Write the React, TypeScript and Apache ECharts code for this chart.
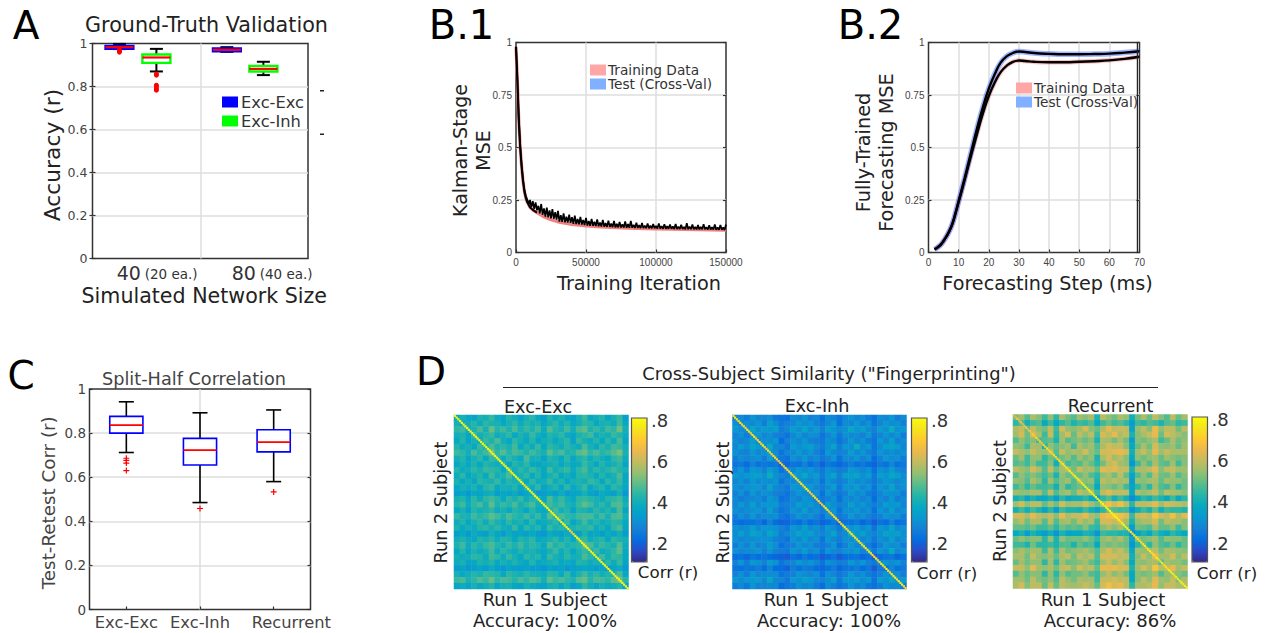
import React, { useEffect, useRef } from "react";
import * as echarts from "echarts";

const FONT = "DejaVu Sans";
const PARULA = ["#352A87","#2B4AC7","#046DE0","#1481D6","#0998D1","#07A9C2","#25B5A9","#59BD8C","#92BF73","#C0BC60","#E9B94E","#FEC832","#F5E41D","#F9FB0E"];

// Panel A: [low whisker, Q1, median, Q3, high whisker]
const boxAExcExc = [[0.974,0.975,0.983,0.989,0.998],[0.961,0.963,0.971,0.977,0.983]];
const boxAExcInh = [[0.87,0.91,0.935,0.949,0.975],[0.853,0.87,0.882,0.896,0.915]];
const boxAPositionsEE = [0.25,1.247];
const boxAPositionsEI = [0.593,1.586];
const outliersAEE = [0.97,0.965,0.96];
const outliersAEI = [0.858,0.853,0.806,0.8,0.79,0.783];
const labelsA: Record<string, string> = { "0.6": "{a|40} {b|(20 ea.)}", "1.667": "{a|80} {b|(40 ea.)}" };
const labelValuesA = [0.6, 1.667];

// Panel B.1
const b1TrainIter = [0,1000,2000,3000,4000,5000,6000,7000,8000,10000,12000,15000,20000,25000,30000,40000,50000,60000,80000,100000,120000,150000];
const b1Train = [0.98,0.82,0.63,0.5,0.41,0.34,0.29,0.26,0.24,0.215,0.203,0.19,0.17,0.156,0.146,0.134,0.127,0.122,0.116,0.112,0.11,0.107];
const b1TestEarlyIter = [0,500,1000,1500,2000,2500,3000,3500,4000,4500,5000,5500,6000,6500,7000,7500,8000,8500,9000,9500];
const b1TestEarly = [0.98,0.9,0.82,0.72,0.64,0.57,0.51,0.46,0.42,0.385,0.35,0.325,0.3,0.285,0.27,0.262,0.25,0.245,0.235,0.232];
const b1TestNoisy = [0.25,0.216,0.244,0.208,0.238,0.201,0.222,0.186,0.231,0.18,0.21,0.171,0.214,0.167,0.2,0.163,0.207,0.16,0.192,0.157,0.198,0.147,0.178,0.146,0.186,0.144,0.17,0.143,0.18,0.141,0.168,0.136,0.175,0.135,0.16,0.134,0.17,0.133,0.155,0.131,0.165,0.128,0.15,0.127,0.16,0.127,0.146,0.126,0.158,0.125,0.143,0.124,0.155,0.123,0.14,0.122,0.152,0.122,0.138,0.121,0.15,0.12,0.136,0.12,0.146,0.119,0.134,0.119,0.148,0.118,0.135,0.118,0.15,0.118,0.132,0.117,0.142,0.117,0.13,0.116,0.14,0.116,0.128,0.116,0.138,0.115,0.128,0.115,0.136,0.115,0.127,0.114,0.138,0.114,0.126,0.113,0.134,0.113,0.125,0.113,0.133,0.113,0.124,0.112,0.136,0.112,0.123,0.112,0.132,0.112,0.122,0.111,0.14,0.111,0.123,0.111,0.133,0.111,0.122,0.11,0.131,0.11,0.122,0.11,0.135,0.11,0.121,0.109,0.13,0.109,0.12,0.109,0.134,0.108,0.12,0.108,0.131,0.108,0.119,0.107,0.133];

// Panel B.2
const b2Steps = [2,3,4,5,6,7,8,9,10,12,14,16,18,20,22,24,26,28,30,32,35,40,45,50,55,60,65,70];
const b2Train = [0.015,0.024,0.036,0.055,0.078,0.105,0.14,0.188,0.24,0.345,0.455,0.56,0.66,0.745,0.81,0.86,0.89,0.908,0.914,0.912,0.908,0.906,0.906,0.908,0.911,0.915,0.922,0.932];
const b2Test = [0.015,0.024,0.036,0.055,0.078,0.105,0.14,0.19,0.245,0.355,0.47,0.585,0.69,0.78,0.85,0.905,0.935,0.95,0.957,0.955,0.95,0.946,0.944,0.944,0.945,0.947,0.952,0.958];

// Panel C
const categoriesC: Record<string, string> = { "1": "Exc-Exc", "2": "Exc-Inh", "3.24": "Recurrent" };
const labelValuesC = [1, 2, 3.24];
const boxC = [[0.712,0.8,0.836,0.876,0.942],[0.485,0.655,0.723,0.776,0.892],[0.58,0.715,0.759,0.815,0.905]];
const outliersC = [[1,0.686],[1,0.676],[1,0.664],[1,0.63],[2,0.458],[3,0.533]];

// Panel D, coarse reading of each similarity matrix, percent correlation
const heatExcExc = [
[37,41,38,36,42,40,45,39,37,43,40,36,41,44,38,35,43,39,42,38,36,41,46,38,40,43,37,41,45,35],
[41,38,40,43,39,44,42,41,38,41,44,39,43,40,42,37,41,44,39,43,38,40,44,43,38,41,42,39,46,38],
[44,46,39,42,47,41,50,43,46,42,47,41,45,42,46,39,48,43,41,46,40,47,49,42,45,41,46,44,51,40],
[40,42,37,44,40,43,45,39,41,44,38,42,39,45,40,38,43,41,44,39,37,42,44,46,39,42,40,45,43,39],
[38,43,36,41,39,45,42,47,40,37,44,41,38,43,37,40,42,38,41,44,36,45,41,39,43,38,44,39,47,37],
[43,39,41,38,45,40,47,42,44,41,46,38,43,39,45,38,44,42,39,44,41,39,47,41,38,44,41,46,45,40],
[46,44,40,47,43,46,51,44,48,43,47,45,42,46,43,41,49,44,47,42,43,48,50,44,47,43,45,48,52,41],
[40,43,37,41,44,38,45,43,39,44,41,38,47,40,41,36,43,41,38,44,37,42,44,39,43,40,38,44,46,39],
[37,41,38,42,38,43,41,39,41,37,43,40,44,38,37,39,40,42,37,41,38,39,45,41,37,43,39,41,44,36],
[43,39,40,44,41,45,44,43,38,45,40,44,41,45,42,38,46,40,43,45,39,44,47,40,44,41,43,46,43,41],
[39,44,37,40,43,38,46,40,42,47,39,41,44,38,43,37,41,44,38,40,37,43,44,42,38,43,39,41,47,37],
[42,38,41,37,44,42,41,45,39,43,41,43,38,44,39,40,45,39,43,37,41,42,40,45,43,37,44,40,45,38],
[38,41,39,42,37,43,45,38,41,40,43,37,42,39,44,36,40,43,37,44,38,41,45,37,41,43,38,44,42,37],
[35,37,33,38,36,39,40,34,38,36,39,34,38,36,33,35,38,35,39,34,36,37,41,36,34,39,37,35,41,33],
[41,43,38,44,39,44,46,43,38,44,41,45,39,43,42,37,47,41,45,40,38,44,45,43,41,39,43,44,46,39],
[43,46,39,44,47,41,49,42,45,43,47,41,44,47,40,41,46,43,46,42,40,45,49,46,41,44,40,47,48,41],
[38,41,36,43,40,42,44,39,41,38,43,41,37,43,39,38,41,46,40,43,36,43,42,39,44,40,43,39,47,36],
[45,42,41,46,43,45,49,46,42,47,44,42,46,41,45,39,48,43,47,44,43,46,47,47,42,46,41,47,48,40],
[39,43,37,41,44,39,45,41,39,44,40,42,38,44,38,39,41,44,38,45,37,41,46,40,43,39,41,44,43,38],
[42,38,41,39,43,44,41,44,40,39,45,38,44,40,43,37,45,41,43,39,42,44,43,45,39,42,38,44,47,37],
[35,38,33,39,36,35,41,37,34,39,36,37,35,38,34,33,39,36,35,39,36,35,42,36,38,34,39,36,40,34],
[40,42,39,38,43,41,44,39,43,42,38,43,41,44,38,39,41,44,39,43,38,44,45,39,42,43,38,44,42,40],
[42,46,39,44,41,45,47,43,40,45,42,46,41,44,42,38,47,42,45,41,43,44,49,47,41,45,43,41,48,39],
[38,43,37,42,39,41,46,39,44,41,39,43,40,42,39,38,41,45,39,43,37,42,45,41,45,39,41,44,49,38],
[41,39,40,44,43,39,46,44,39,45,41,38,44,41,43,37,45,41,39,44,40,41,47,43,39,46,40,45,44,38],
[39,41,36,38,42,40,43,38,41,39,42,39,37,43,37,39,40,42,38,39,37,43,42,39,41,38,44,39,45,36],
[34,36,33,35,37,34,39,35,33,37,35,34,36,34,35,32,37,34,36,33,35,36,38,36,34,37,33,37,39,33],
[41,38,40,43,41,45,44,43,38,44,42,40,44,41,40,39,44,43,38,45,38,42,46,41,44,40,43,41,47,38],
[45,47,41,44,48,45,50,44,47,46,43,47,44,48,46,40,49,45,47,44,42,48,50,43,47,46,44,49,51,43],
[37,39,36,41,38,40,43,37,40,41,38,36,41,39,37,36,40,42,37,41,35,38,44,40,37,41,39,40,43,36],
];

const heatExcInh = [
[27,30,26,33,28,29,31,25,24,23,30,28,33,27,29,23,30,28,24,29,32,28,31,26,23,30,28,33,26,30],
[30,27,31,29,32,26,35,30,25,27,28,33,30,32,27,25,29,33,23,30,28,33,27,31,24,28,33,30,31,27],
[33,30,29,37,31,34,33,35,26,29,34,31,37,30,34,27,35,32,29,31,37,32,35,30,27,34,31,39,31,33],
[28,31,26,30,33,28,31,27,26,24,29,33,28,31,30,24,28,32,25,31,29,30,27,33,25,28,32,29,32,26],
[30,27,29,34,27,31,30,32,22,27,31,28,32,27,26,25,31,29,24,27,33,28,31,26,24,33,28,35,27,30],
[29,34,30,36,33,29,38,29,28,25,34,31,33,35,30,26,31,36,26,33,31,39,30,33,24,30,35,36,34,28],
[31,28,27,33,28,31,32,30,24,28,29,33,29,32,27,24,33,29,27,28,34,29,32,27,25,32,29,31,28,31],
[26,30,28,30,31,26,34,27,25,23,31,28,33,27,30,25,27,32,23,30,29,32,27,31,22,27,33,30,31,26],
[24,25,22,27,23,25,24,25,21,21,24,23,27,22,25,20,25,23,21,24,26,23,25,22,20,25,23,28,23,25],
[27,32,26,33,31,27,34,30,23,27,28,33,30,32,28,25,31,29,26,27,33,31,28,31,23,31,29,34,28,27],
[33,31,33,34,35,31,39,31,28,26,35,32,38,31,34,26,32,36,27,35,34,36,31,34,25,35,32,37,35,30],
[28,31,27,33,29,31,30,32,24,28,29,31,30,28,31,24,32,29,26,28,33,29,31,28,25,29,33,31,28,31],
[31,29,31,32,33,28,36,29,27,25,33,31,32,33,28,26,30,34,25,32,31,34,29,32,24,32,30,36,29,31],
[27,31,26,33,28,31,30,27,26,24,28,32,30,28,31,23,32,28,25,27,33,29,31,26,24,28,32,31,31,26],
[29,26,28,29,30,26,33,30,23,25,30,27,32,30,26,25,27,31,23,30,28,31,27,30,22,30,27,33,26,29],
[28,33,29,35,29,32,32,33,26,27,29,34,31,33,29,24,34,30,27,29,35,30,33,29,26,29,34,32,33,28],
[31,28,30,31,32,27,35,28,24,26,32,29,35,28,31,26,29,33,24,31,30,33,28,31,23,32,29,35,28,31],
[26,31,27,33,27,30,30,31,25,23,27,32,29,31,27,23,31,28,25,27,33,28,31,27,25,27,32,30,31,26],
[24,22,23,23,25,21,27,22,20,21,24,22,26,22,24,20,22,25,20,23,23,25,21,24,19,24,22,27,22,24],
[31,29,30,34,29,32,32,31,27,25,33,30,35,29,31,26,33,30,25,32,31,34,29,32,24,33,30,36,29,31],
[30,35,30,36,34,30,37,33,26,29,31,36,33,35,30,28,31,36,27,30,37,32,35,30,27,31,36,34,35,30],
[31,28,30,30,31,31,31,27,26,24,32,29,34,28,31,24,32,29,26,31,30,33,28,31,25,31,29,35,28,31],
[26,31,27,33,27,29,34,30,23,26,27,32,29,31,26,25,27,32,23,27,33,28,31,26,22,27,33,30,31,26],
[31,28,30,30,32,27,32,27,26,25,32,29,34,28,31,24,32,29,27,31,30,33,27,31,25,32,29,38,28,31],
[22,23,21,24,22,24,22,21,20,19,23,21,25,22,23,19,21,24,19,22,23,24,21,23,18,22,24,25,21,23],
[27,32,26,33,31,27,34,31,24,27,28,33,30,32,28,24,31,29,26,27,33,29,32,27,25,28,32,30,32,27],
[24,23,25,24,26,22,28,22,22,20,26,23,26,25,22,21,23,26,21,24,24,26,22,25,19,25,23,28,23,25],
[27,31,26,33,28,30,30,30,24,26,27,32,30,28,31,23,31,28,25,27,33,28,31,26,24,27,32,29,31,26],
[33,30,32,33,34,29,37,29,28,25,33,31,35,33,29,27,30,35,25,33,32,34,30,33,24,34,31,36,30,33],
[26,29,25,32,27,28,29,29,22,25,26,31,28,30,26,22,30,27,24,26,32,27,30,25,23,26,31,29,30,25],
];

const heatRecurrent = [
[51,56,48,57,53,46,54,44,57,51,48,56,53,57,42,59,54,51,57,54,40,51,57,50,59,53,48,59,50,56],
[44,48,40,46,48,38,46,38,44,48,42,46,44,48,38,46,50,46,48,44,34,46,44,48,46,42,48,50,44,46],
[57,60,50,59,53,51,59,46,62,54,53,56,62,53,50,57,64,59,60,59,36,54,59,53,66,54,59,59,51,59],
[56,62,51,62,57,46,60,44,56,62,50,59,54,59,46,62,59,65,57,60,42,53,57,60,65,51,62,59,56,53],
[48,54,50,53,46,48,50,42,56,48,51,53,50,53,42,57,56,51,57,51,34,53,51,54,57,46,50,57,51,54],
[54,53,46,57,56,42,54,50,53,56,46,57,53,56,48,57,62,59,60,53,38,50,57,51,62,54,53,56,50,56],
[60,57,54,60,56,54,59,48,60,54,57,56,62,54,50,62,62,64,65,62,40,56,60,54,65,56,60,57,57,57],
[50,56,46,54,54,44,51,46,51,54,48,56,51,54,42,57,62,56,59,53,38,54,51,54,56,50,56,53,51,53],
[48,50,46,53,46,46,53,40,54,46,50,48,54,50,44,51,59,62,56,54,32,46,54,48,57,50,48,56,46,53],
[59,56,53,62,57,48,60,50,57,57,51,60,56,57,50,64,62,64,60,60,42,57,57,59,64,53,59,60,56,56],
[48,54,50,53,50,46,51,42,54,50,51,50,54,48,44,54,57,51,59,50,36,48,54,48,59,51,50,56,48,53],
[54,53,48,57,53,44,56,48,53,56,48,56,53,54,42,59,56,59,56,57,34,54,53,56,57,50,56,54,54,51],
[46,51,44,50,46,46,48,40,53,44,48,51,48,50,38,54,53,50,54,46,36,44,51,44,56,48,46,53,44,51],
[56,54,54,57,57,48,59,48,54,57,50,59,56,57,46,59,64,59,59,59,38,57,54,57,60,51,59,57,56,53],
[40,44,36,42,38,38,42,34,44,38,40,40,44,38,34,44,48,40,46,40,30,38,44,40,46,42,38,46,38,44],
[56,62,54,59,59,50,57,51,62,56,57,57,62,56,51,60,67,62,67,59,44,59,59,60,65,56,62,60,59,57],
[40,46,40,46,42,36,44,34,46,42,42,40,46,40,36,44,50,48,46,46,32,40,46,42,50,40,46,44,44,42],
[62,62,57,65,59,57,60,53,65,57,60,60,65,57,54,65,67,69,67,64,46,60,62,59,69,62,59,67,57,64],
[54,59,51,57,57,48,59,48,56,57,51,59,54,57,46,62,62,60,62,56,42,54,57,57,62,51,59,57,57,53],
[50,50,48,51,46,46,50,44,51,48,50,48,53,46,44,53,57,53,57,50,34,51,50,48,57,50,50,54,46,53],
[38,42,34,42,38,34,40,32,42,36,38,38,42,40,32,46,44,44,42,42,28,36,42,38,46,40,38,44,40,38],
[50,54,51,53,53,44,54,42,54,50,51,51,54,50,44,54,57,53,57,51,36,53,51,53,56,48,54,53,53,50],
[46,46,42,51,44,44,46,42,48,48,42,50,46,48,38,53,51,53,51,50,32,44,50,44,54,48,46,51,44,50],
[53,57,53,56,56,46,57,46,57,51,53,54,57,53,48,57,62,57,60,54,38,56,54,56,59,51,57,56,54,53],
[57,57,51,60,54,53,56,50,57,59,51,59,56,59,48,62,62,62,59,60,40,53,60,54,65,56,56,62,53,59],
[50,56,51,54,54,44,56,44,56,50,51,53,56,50,46,56,60,54,59,53,38,54,53,56,57,48,56,54,54,51],
[60,60,54,64,56,54,57,51,59,60,53,62,57,59,50,65,64,65,62,62,42,56,62,57,69,59,59,65,56,60],
[48,54,50,53,53,44,54,44,54,48,51,51,54,48,46,54,59,53,57,51,38,53,51,53,56,48,54,54,53,50],
[56,56,51,59,53,51,54,48,59,54,51,57,56,56,46,60,60,62,59,59,38,53,59,54,64,56,54,60,51,57],
[57,62,53,59,59,50,60,50,59,57,56,57,60,57,50,62,67,62,65,59,44,57,57,59,65,54,60,60,57,57],
];

const diagExcExc = [80,80,79,80,80,80,79,80,80,80,80,79,80,80,80,78,80,80,80,79,80,80,80,79,80,80,80,80,78,80,80,80,79,80,80,80,79,80,80,80,73,76,80,80,80,79,80,80,80,80,79,80,80,80,78,80,80,80,79,80,80,80,80,79,80,80,72,71,74,78,80,80,79,80,80,80,80,78,80,80,80,79,80,80,80,80,80,79,80,80,80,80,78,80,80,80,80,80,79,80];
const diagExcInh = [75,78,76,72,78,74,76,70,78,74,72,76,78,70,74,76,72,78,74,70,76,72,70,74,76,72,68,72,74,70,76,72,74,78,70,72,76,74,72,78,70,74,78,76,72,70,74,76,72,74,68,72,74,78,76,70,72,74,76,78,70,74,72,76,78,74,72,76,78,74,76,72,78,74,76,78,74,72,76,78,74,76,78,72,74,78,76,74,78,76,72,78,76,78,74,78,76,78,74,72];
const diagRecurrent = [66,62,70,64,68,62,66,72,64,70,66,72,68,74,70,72,66,74,72,76,70,74,72,76,74,70,76,72,78,74,76,72,78,76,74,78,76,78,74,76,78,80,76,78,80,78,76,80,78,80,78,80,76,80,78,80,80,78,80,78,80,76,78,80,78,80,74,78,76,78,74,76,72,76,74,78,72,76,78,74,76,72,78,74,76,78,72,76,74,78,76,78,74,78,76,78,80,76,78,80];
const colorbarTicks = [0.2,0.4,0.6,0.8];
const CB_MIN = 0.11, CB_MAX = 0.81;

const GRID_LINE = { show: true, showMinLine: false, showMaxLine: false, lineStyle: { color: "#dedede", width: 1.5 } };
const rect = (left: number, top: number, right: number, bottom: number) => ({ left, top, width: right - left, height: bottom - top });

const line = (x1: number, y1: number, x2: number, y2: number, stroke: string, lineWidth: number) => ({ type: "line", shape: { x1, y1, x2, y2 }, style: { stroke, lineWidth } });

const renderBox = (boxColor: string, boxWidth: number, capPx: number, boxStroke: number, medStroke: number, whisk: number) => (_: any, api: any) => {
  const x = api.value(0);
  const c = api.coord([x, api.value(1)]);
  const cx = c[0], yLo = c[1];
  const yQ1 = api.coord([x, api.value(2)])[1];
  const yMed = api.coord([x, api.value(3)])[1];
  const yQ3 = api.coord([x, api.value(4)])[1];
  const yHi = api.coord([x, api.value(5)])[1];
  const hw = api.size([boxWidth, 0], [x, 0])[0] / 2;
  return {
    type: "group",
    children: [
      line(cx, yHi, cx, yQ3, "#000", whisk),
      line(cx, yLo, cx, yQ1, "#000", whisk),
      line(cx - capPx / 2, yHi, cx + capPx / 2, yHi, "#000", whisk),
      line(cx - capPx / 2, yLo, cx + capPx / 2, yLo, "#000", whisk),
      { type: "rect", shape: { x: cx - hw, y: yQ3, width: 2 * hw, height: yQ1 - yQ3 }, style: { fill: "#fff", stroke: boxColor, lineWidth: boxStroke } },
      line(cx - hw, yMed, cx + hw, yMed, "#f00", medStroke),
    ],
  };
};

const zip = (a: number[], b: number[]) => a.map((v, i) => [v, b[i]]);

function buildOption() {
  const grid: any[] = [], xAxis: any[] = [], yAxis: any[] = [], series: any[] = [], visualMap: any[] = [];
  const addGrid = (r: any, extra: any = {}) => { grid.push({ ...r, show: true, borderColor: "#333", borderWidth: 1.5, ...extra }); return grid.length - 1; };
  const addX = (o: any) => { xAxis.push(o); return xAxis.length - 1; };
  const addY = (o: any) => { yAxis.push(o); return yAxis.length - 1; };
  const tick = (len = 3) => ({ show: true, inside: true, length: len, lineStyle: { color: "#333", width: 1.2 } });
  const noLine = { show: false };
  const mirror = (gridIndex: number, min: number, max: number, interval: number) => addY({ gridIndex, type: "value", position: "right", min, max, interval, axisLine: noLine, axisTick: tick(), axisLabel: { show: false }, splitLine: { show: false } });

  // A
  const gA = addGrid(rect(92.5, 43.5, 308, 258.5));
  const xA = addX({ gridIndex: gA, type: "value", min: 0, max: 2, interval: 1, axisLine: noLine, axisTick: { show: false }, axisLabel: { show: false }, splitLine: GRID_LINE });
  addX({
    gridIndex: gA, type: "value", min: 0, max: 2, position: "bottom", axisLine: noLine, axisTick: { show: false }, splitLine: { show: false },
    axisLabel: {
      customValues: labelValuesA, margin: 5, color: "#333",
      formatter: (v: number) => labelsA[String(v)],
      rich: { a: { fontSize: 19, fontFamily: FONT, color: "#333" }, b: { fontSize: 13.5, fontFamily: FONT, color: "#333", padding: [2, 0, 0, 0] } },
    },
    name: "Simulated Network Size", nameLocation: "middle", nameGap: 26.5, nameMoveOverlap: false, nameTextStyle: { fontSize: 20.6, fontFamily: FONT, color: "#222", padding: [0, 0, 0, 8] },
  });
  const yA = addY({ gridIndex: gA, type: "value", min: 0, max: 1, interval: 0.2, axisLine: noLine, axisTick: tick(), splitLine: GRID_LINE,
    axisLabel: { fontSize: 12.5, fontFamily: FONT, color: "#444", margin: 5 },
    name: "Accuracy (r)", nameLocation: "middle", nameGap: 29, nameMoveOverlap: false, nameTextStyle: { fontSize: 21.8, fontFamily: FONT, color: "#222", padding: [0, 8, 0, 0] } });
  mirror(gA, 0, 1, 0.2);
  const boxOut = (name: string, data: number[][], render: any, xi: number, yi: number) => series.push({ name, type: "custom", xAxisIndex: xi, yAxisIndex: yi, data, renderItem: render, encode: { x: 0, y: [1, 2, 3, 4, 5] }, clip: false, z: 3 });
  boxOut("Exc-Exc", boxAExcExc.map((b, i) => [boxAPositionsEE[i], ...b]), renderBox("#0000ff", 0.26, 13, 2.2, 2.2, 2), xA, yA);
  boxOut("Exc-Inh", boxAExcInh.map((b, i) => [boxAPositionsEI[i], ...b]), renderBox("#00ff00", 0.26, 13, 2.4, 2.2, 2), xA, yA);
  const scat = (name: string, data: number[][], xi: number, yi: number, symbol: string, size: number) => series.push({ name, type: "scatter", xAxisIndex: xi, yAxisIndex: yi, data, symbol, symbolSize: size, itemStyle: { color: "#f00", opacity: 1 }, z: 4, clip: false });
  scat("EE outliers", outliersAEE.map((v) => [boxAPositionsEE[0], v]), xA, yA, "circle", 5);
  scat("EI outliers", outliersAEI.map((v) => [boxAPositionsEI[0], v]), xA, yA, "circle", 5);

  // B.1
  const gB1 = addGrid(rect(516, 42.5, 726, 252.5));
  const tickLabelB = { fontSize: 10, fontFamily: "Liberation Sans", color: "#444", margin: 4, formatter: (v: number) => String(v) };
  const xB1 = addX({ gridIndex: gB1, type: "value", min: 0, max: 150000, interval: 50000, axisLine: noLine, axisTick: tick(), splitLine: GRID_LINE,
    axisLabel: { ...tickLabelB, margin: 5 }, name: "Training Iteration", nameLocation: "middle", nameGap: 21, nameMoveOverlap: false, nameTextStyle: { fontSize: 19.3, fontFamily: FONT, color: "#222", padding: [0, 0, 0, 36] } });
  const yB1 = addY({ gridIndex: gB1, type: "value", min: 0, max: 1, interval: 0.25, axisLine: noLine, axisTick: tick(), splitLine: GRID_LINE, axisLabel: tickLabelB,
    name: "Kalman-Stage\nMSE", nameLocation: "middle", nameGap: 21.5, nameMoveOverlap: false, nameTextStyle: { fontSize: 19, lineHeight: 23, fontFamily: FONT, color: "#222", padding: [0, 6, 0, 0] } });
  mirror(gB1, 0, 1, 0.25);
  const b1NoisyIter = b1TestNoisy.map((_, i) => 10000 + i * 1000);
  series.push({ name: "Training Data", type: "line", xAxisIndex: xB1, yAxisIndex: yB1, showSymbol: false, symbol: "none", data: zip(b1TrainIter, b1Train), lineStyle: { color: "#f08080", width: 3.2 }, z: 2 });
  series.push({ name: "Test (Cross-Val)", type: "line", xAxisIndex: xB1, yAxisIndex: yB1, showSymbol: false, symbol: "none", data: [...zip(b1TestEarlyIter, b1TestEarly), ...zip(b1NoisyIter, b1TestNoisy)], lineStyle: { color: "#000", width: 1.7 }, z: 3 });
  series.push({ name: "Test mean", type: "line", xAxisIndex: xB1, yAxisIndex: yB1, showSymbol: false, symbol: "none", data: zip(b1TrainIter.slice(0, 12), b1Train.slice(0, 12)), lineStyle: { color: "#000", width: 2 }, z: 3 });

  // B.2
  const gB2 = addGrid(rect(928.5, 42.5, 1139.5, 252.5));
  const xB2 = addX({ gridIndex: gB2, type: "value", min: 0, max: 70, interval: 10, axisLine: noLine, axisTick: tick(), splitLine: GRID_LINE,
    axisLabel: { ...tickLabelB, margin: 5 }, name: "Forecasting Step (ms)", nameLocation: "middle", nameGap: 21, nameMoveOverlap: false, nameTextStyle: { fontSize: 19.2, fontFamily: FONT, color: "#222", padding: [0, 0, 0, 27] } });
  const yB2 = addY({ gridIndex: gB2, type: "value", min: 0, max: 1, interval: 0.25, axisLine: noLine, axisTick: tick(), splitLine: GRID_LINE, axisLabel: tickLabelB,
    name: "Fully-Trained\nForecasting MSE", nameLocation: "middle", nameGap: 31, nameMoveOverlap: false, nameTextStyle: { fontSize: 19.3, lineHeight: 23, fontFamily: FONT, color: "#222", padding: [0, 10, 0, 0] } });
  mirror(gB2, 0, 1, 0.25);
  const b2Line = (name: string, data: number[], color: string, width: number, z: number) => series.push({ name, type: "line", xAxisIndex: xB2, yAxisIndex: yB2, smooth: true, showSymbol: false, symbol: "none", data: zip(b2Steps, data), lineStyle: { color, width }, z, clip: true });
  b2Line("Training Data", b2Train, "rgba(240,100,100,0.4)", 4.5, 2);
  b2Line("Test (Cross-Val)", b2Test, "rgba(70,110,255,0.5)", 5.5, 2);
  b2Line("Train mean", b2Train, "#000", 2.4, 3);
  b2Line("Test mean", b2Test, "#000", 2.4, 3);
  series.push({ name: "Edge", type: "line", xAxisIndex: xB2, yAxisIndex: yB2, showSymbol: false, symbol: "none", data: [[69.3, 0], [69.3, 1]], lineStyle: { color: "#222", width: 1.2 }, z: 3 });

  // C
  const gC = addGrid(rect(89.5, 389, 310.5, 609.5));
  const xC = addX({ gridIndex: gC, type: "value", min: 0.5, max: 3.5, axisLine: noLine, axisTick: { ...tick(), customValues: [1, 2, 3] }, axisLabel: { show: false }, splitLine: GRID_LINE });
  addX({ gridIndex: gC, type: "value", min: 0.5, max: 3.5, position: "bottom", axisLine: noLine, axisTick: { show: false }, splitLine: { show: false },
    axisLabel: { customValues: labelValuesC, margin: 5, fontSize: 16.3, fontFamily: FONT, color: "#444", formatter: (v: number) => categoriesC[String(v)] } });
  const yC = addY({ gridIndex: gC, type: "value", min: 0, max: 1, interval: 0.2, axisLine: noLine, axisTick: tick(), splitLine: GRID_LINE,
    axisLabel: { fontSize: 13.5, fontFamily: FONT, color: "#444", margin: 3.5 },
    name: "Test-Retest Corr (r)", nameLocation: "middle", nameGap: 32.5, nameMoveOverlap: false, nameTextStyle: { fontSize: 18.3, fontFamily: FONT, color: "#444", padding: [0, 7, 0, 0] } });
  mirror(gC, 0, 1, 0.2);
  boxOut("Split-half", boxC.map((b, i) => [i + 1, ...b]), renderBox("#0000ff", 0.45, 15, 1.6, 1.6, 1.6), xC, yC);
  scat("C outliers", outliersC, xC, yC, "path://M4 0h2v4h4v2H6v4H4V6H0V4h4z", 6);

  // D
  const panels = [
    { m: heatExcExc, d: diagExcExc, r: rect(454, 415, 628.5, 589), cb: rect(631.5, 418, 647, 562) },
    { m: heatExcInh, d: diagExcInh, r: rect(732.5, 415, 906.5, 589), cb: rect(911.5, 418, 927, 562) },
    { m: heatRecurrent, d: diagRecurrent, r: rect(1013, 414.5, 1187.5, 588.5), cb: rect(1192, 417, 1207.5, 562) },
  ];
  const hidden = { show: false };
  panels.forEach((p) => {
    const g = addGrid(p.r, { borderWidth: 0 });
    const n = p.m.length;
    const cats = p.m.map((_, i) => i);
    const dcats = p.d.map((_, i) => i);
    const hx = addX({ gridIndex: g, type: "category", data: cats, ...hidden });
    const hy = addY({ gridIndex: g, type: "category", data: cats, inverse: true, ...hidden });
    const dx = addX({ gridIndex: g, type: "category", data: dcats, ...hidden });
    const dy = addY({ gridIndex: g, type: "category", data: dcats, inverse: true, ...hidden });
    const s0 = series.length;
    const cells: number[][] = [];
    for (let r = 0; r < n; r++) for (let c = 0; c < n; c++) cells.push([c, r, p.m[r][c] / 100]);
    series.push({ name: "Similarity", type: "heatmap", xAxisIndex: hx, yAxisIndex: hy, data: cells, z: 2, emphasis: { disabled: true } });
    series.push({ name: "Same subject", type: "heatmap", xAxisIndex: dx, yAxisIndex: dy, data: p.d.map((v, i) => [i, i, v / 100]), z: 3, emphasis: { disabled: true } });
    const gc = addGrid(p.cb, { borderWidth: 0 });
    addX({ gridIndex: gc, type: "value", min: 0, max: 1, ...hidden });
    addY({ gridIndex: gc, type: "value", position: "right", min: CB_MIN, max: CB_MAX, axisLine: noLine, axisTick: { show: false }, splitLine: { show: false },
      axisLabel: { customValues: colorbarTicks, margin: 4, fontSize: 18, fontFamily: FONT, color: "#333", formatter: (v: number) => String(v).replace("0.", ".") } });
    visualMap.push({ type: "continuous", seriesIndex: [s0, s0 + 1], dimension: 2, min: CB_MIN, max: CB_MAX, show: true, calculable: false, left: p.cb.left, top: p.cb.top, itemWidth: p.cb.width, itemHeight: p.cb.height, padding: 0, text: null, inRange: { color: PARULA }, hoverLink: false });
  });

  const legendBase = { orient: "vertical", icon: "rect", selectedMode: false, padding: 0, itemWidth: 16, itemHeight: 11, itemGap: 0 };
  const patch = (name: string, color: string) => ({ name, icon: "rect", itemStyle: { color } });
  const legend = [
    { ...legendBase, left: 222, top: 94, itemHeight: 11, itemGap: 3, textStyle: { fontSize: 16.3, lineHeight: 16, fontFamily: FONT, color: "#333", padding: [0, 0, 0, -2] }, data: [patch("Exc-Exc", "#0000ff"), patch("Exc-Inh", "#00ff00")] },
    { ...legendBase, left: 590, top: 63, textStyle: { fontSize: 13.7, lineHeight: 13, fontFamily: FONT, color: "#333", padding: [0, 0, 0, -3] }, data: [patch("Training Data", "#ffa6a6"), patch("Test (Cross-Val)", "#80b0ff")] },
    { ...legendBase, left: 1016, top: 81, textStyle: { fontSize: 13.7, lineHeight: 13, fontFamily: FONT, color: "#333", padding: [0, 0, 0, -3] }, data: [patch("Training Data", "#ffa6a6"), patch("Test (Cross-Val)", "#80b0ff")] },
  ];

  const txt = (text: string, x: number, y: number, fontSize: number, fill = "#222", rotation = 0) => ({
    type: "text", x, y, rotation, z: 10,
    style: { text, fontSize, fontFamily: FONT, fill, align: "center", verticalAlign: "middle", textAlign: "center", textVerticalAlign: "middle" },
  });
  const graphicEls: any[] = [
    txt("A", 26, 25, 39, "#000"), txt("B.1", 461.5, 25, 40, "#000"), txt("B.2", 870.5, 25, 40, "#000"), txt("C", 21, 375, 39, "#000"), txt("D", 431, 371, 39, "#000"),
    txt("Ground-Truth Validation", 206.5, 25, 20.7), txt("Split-Half Correlation", 194, 379, 17.7, "#444"),
    txt('Cross-Subject Similarity ("Fingerprinting")', 829, 373, 17.9),
    { type: "line", z: 10, shape: { x1: 503, y1: 387.5, x2: 1158, y2: 387.5 }, style: { stroke: "#222", lineWidth: 1 } },
    { type: "rect", z: 10, shape: { x: 320, y: 90, width: 4, height: 1.5 }, style: { fill: "#222" } },
    { type: "rect", z: 10, shape: { x: 320, y: 133.5, width: 4, height: 1.5 }, style: { fill: "#222" } },
    txt("Exc-Exc", 538, 407, 17.6), txt("Exc-Inh", 817, 406, 17.6), txt("Recurrent", 1110.5, 406, 17.6),
    txt("Run 2 Subject", 441, 502.5, 17.6, "#222", Math.PI / 2), txt("Run 2 Subject", 723, 502.5, 17.6, "#222", Math.PI / 2), txt("Run 2 Subject", 1000, 501, 17.6, "#222", Math.PI / 2),
    txt("Run 1 Subject", 545, 599, 18), txt("Run 1 Subject", 826, 599, 18), txt("Run 1 Subject", 1103, 599, 18),
    txt("Accuracy: 100%", 545, 620, 18), txt("Accuracy: 100%", 829, 620, 18), txt("Accuracy: 86%", 1110, 620, 18),
    txt("Corr (r)", 668, 572, 16.7), txt("Corr (r)", 947, 573, 16.7), txt("Corr (r)", 1227, 573, 16.7),
    ...panels.map((p) => ({ type: "rect", z: 10, shape: { x: p.cb.left, y: p.cb.top, width: p.cb.width, height: p.cb.height }, style: { fill: "none", stroke: "#555", lineWidth: 1.2 } })),
  ];

  return { animation: false, backgroundColor: "#fff", textStyle: { fontFamily: FONT }, grid, xAxis, yAxis, series, visualMap, legend, graphic: { elements: graphicEls } };
}

export default function App() {
  const ref = useRef<HTMLDivElement>(null);
  useEffect(() => {
    const chart = echarts.init(ref.current!, null, { renderer: "svg" });
    chart.setOption(buildOption() as any);
    return () => chart.dispose();
  }, []);
  return <div ref={ref} style={{ position: "absolute", left: 0, top: 0, width: 1266, height: 633 }} />;
}
